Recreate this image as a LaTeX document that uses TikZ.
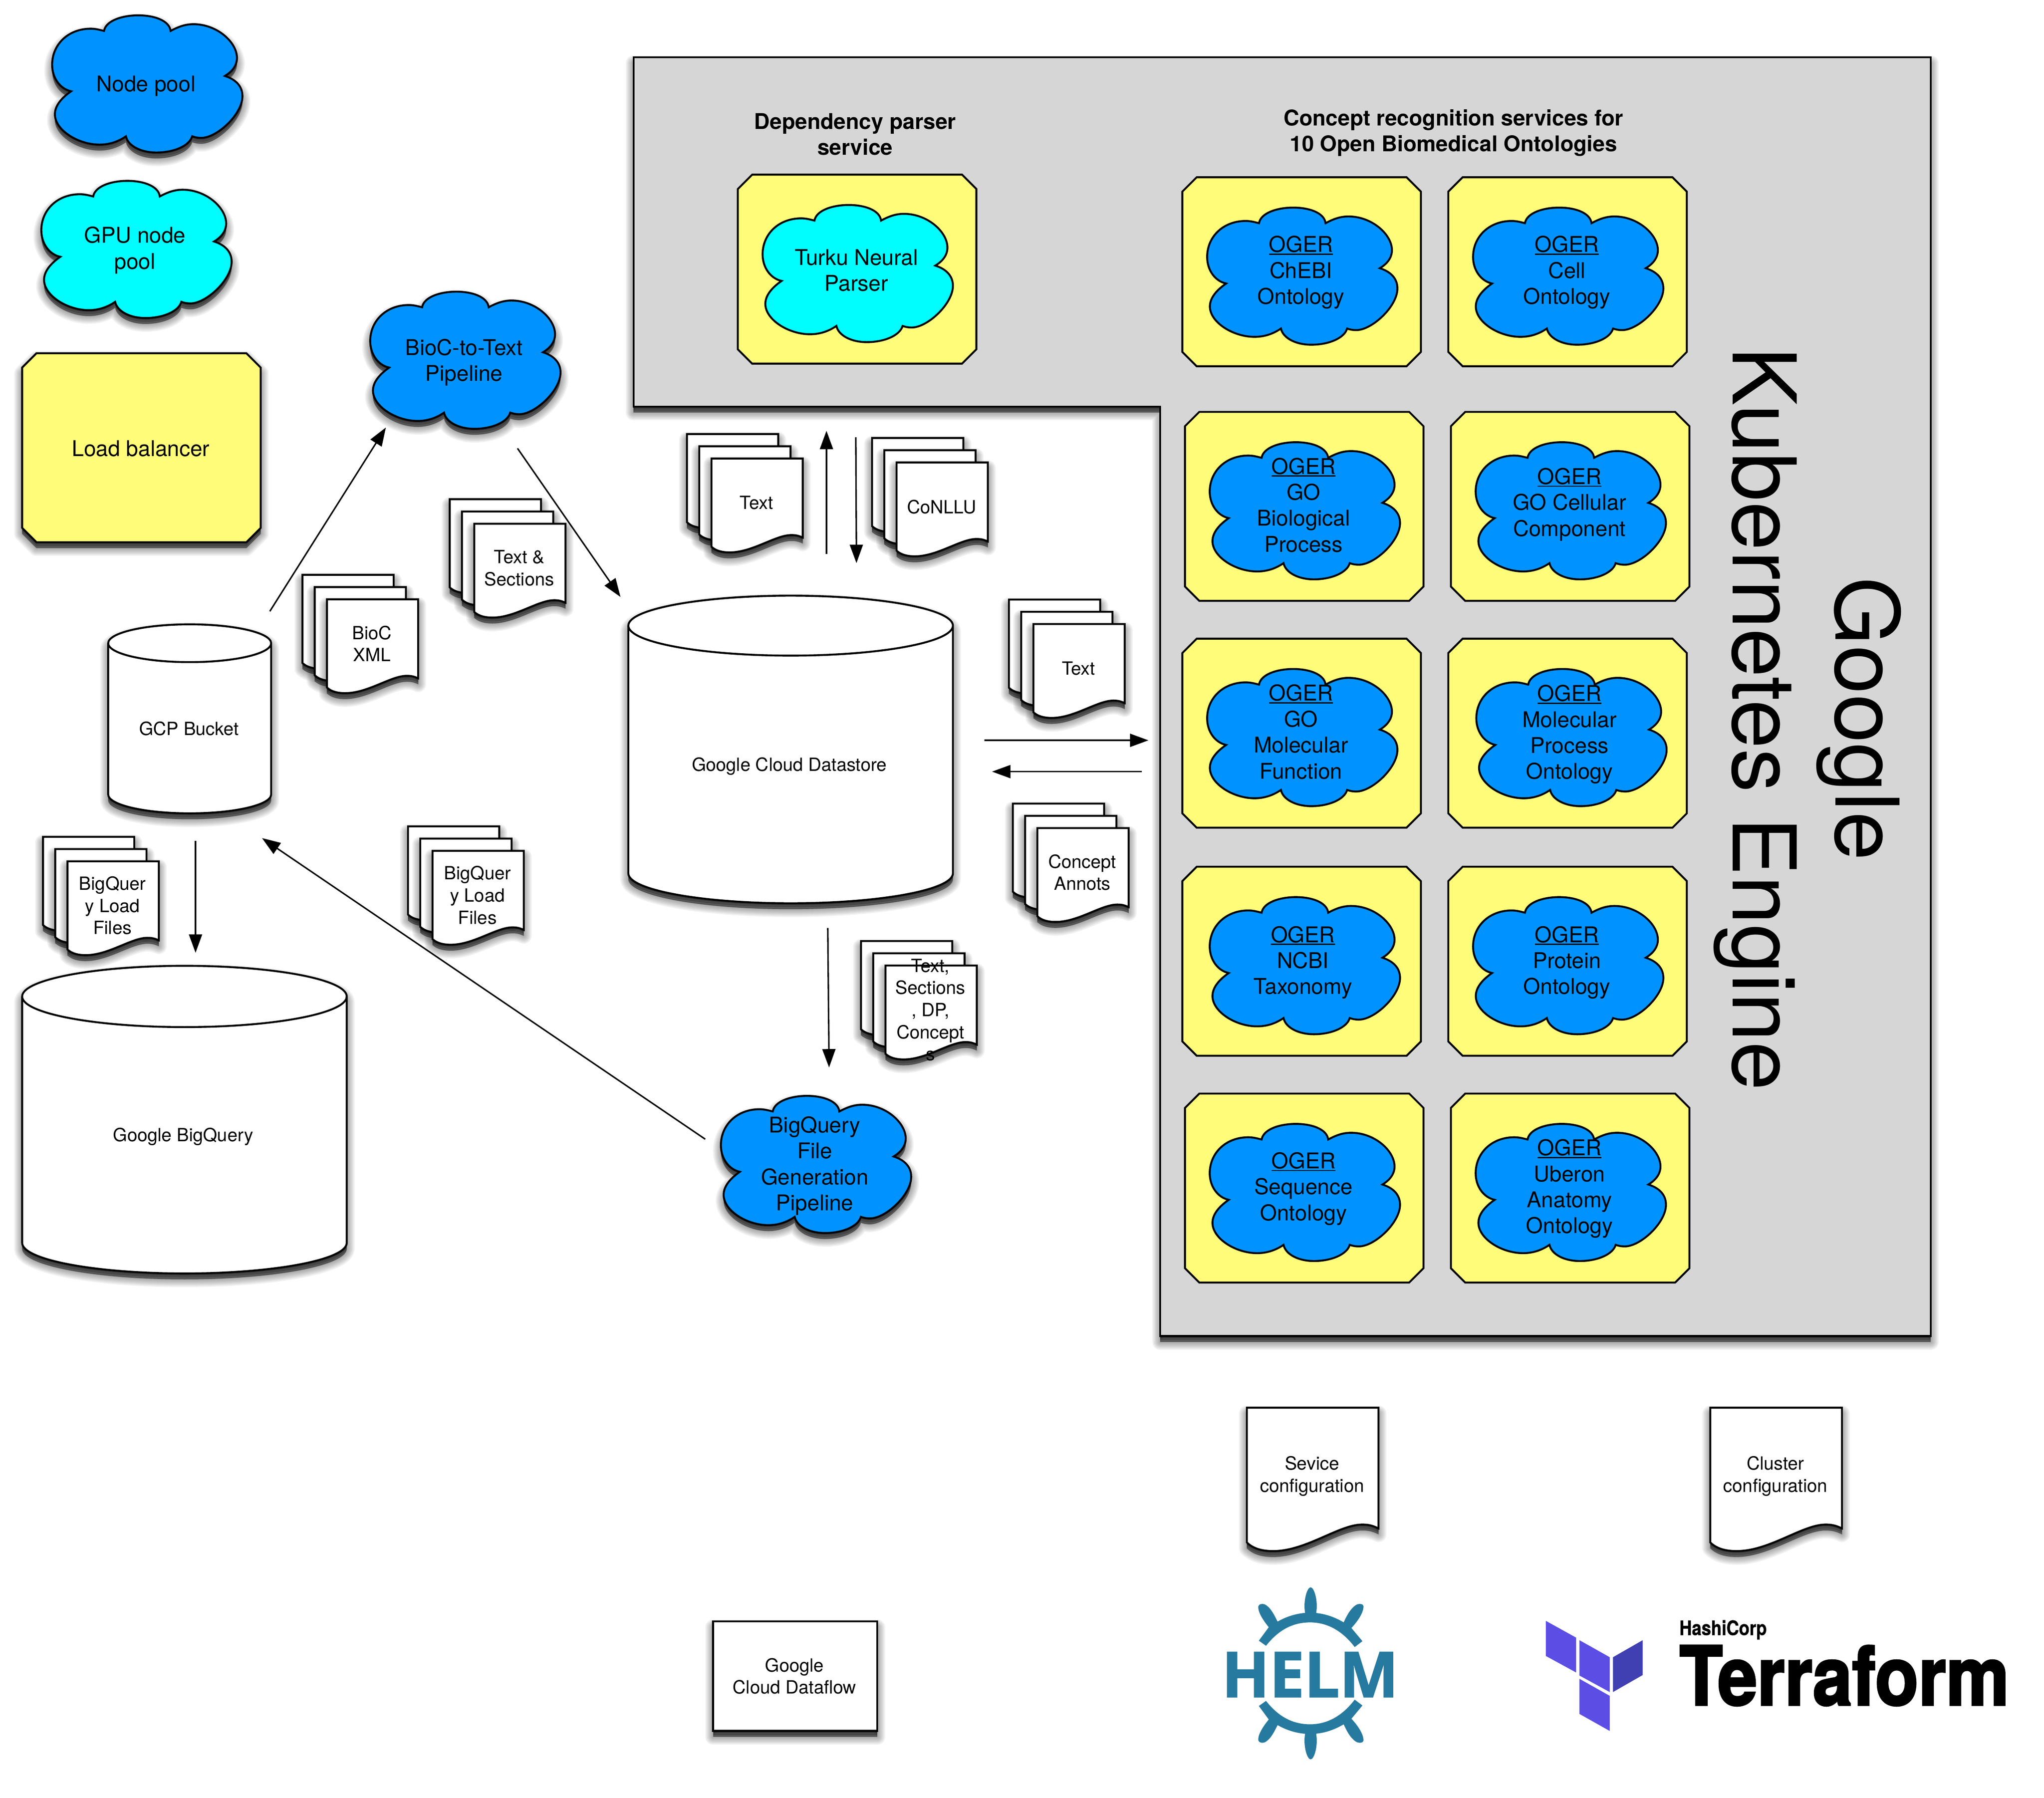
\documentclass[tikz,border=0pt]{standalone}
\usepackage{fontspec}
\usepackage{graphicx}
\setmainfont{TeX Gyre Heros}
\newfontfamily\helmfont[FakeBold=1.6]{Open Sans Bold}
\newfontfamily\tffont[FakeBold=2.5]{TeX Gyre Heros Bold}
\newfontfamily\hashifont[FakeBold=1]{TeX Gyre Heros Bold}
\usetikzlibrary{arrows.meta}
\definecolor{gkegray}{HTML}{D6D6D6}
\definecolor{banana}{HTML}{FFFC79}
\definecolor{aqua}{HTML}{0093FF}
\definecolor{cyanish}{HTML}{00FDFF}
\definecolor{helmblue}{HTML}{277A9F}
\definecolor{tfviolet}{HTML}{5C4EE5}
\definecolor{tfdark}{HTML}{4040B2}
\tikzset{
  outline/.style={draw=black,line width=1.25pt,line join=miter},
  midtext/.style={font=\fontsize{14.15}{16.9}\selectfont,align=center,inner sep=0pt},
  smalltext/.style={font=\fontsize{11.85}{14.4}\selectfont,align=center,inner sep=0pt},
  boldtext/.style={font=\fontsize{14.15}{16.9}\selectfont\bfseries,align=center,inner sep=0pt},
  hugetext/.style={font=\fontsize{57.2}{67}\selectfont,align=center,inner sep=0pt,rotate=-90},
  conn/.style={draw=black,line width=0.95pt,-{Triangle[length=12pt,width=8.5pt]}},
}
\newcommand{\ogerul}{\leavevmode\setbox0\hbox{OGER}\rlap{\rule[-1.7pt]{\wd0}{.8pt}}\box0}
\def\cloudpath{(533,140) .. controls (550,50) and (860,45) .. (873,140)
  .. controls (915,120) and (950,110) .. (990,110)
  .. controls (1110,110) and (1212,190) .. (1212,260)
  .. controls (1212,295) and (1185,322) .. (1150,340)
  .. controls (1205,355) and (1240,385) .. (1240,430)
  .. controls (1240,510) and (1110,615) .. (1030,615)
  .. controls (1010,615) and (995,612) .. (983,608)
  .. controls (970,650) and (890,680) .. (800,680)
  .. controls (720,680) and (655,650) .. (645,608)
  .. controls (605,632) and (560,645) .. (510,645)
  .. controls (400,645) and (282,580) .. (282,510)
  .. controls (282,470) and (320,435) .. (365,408)
  .. controls (310,398) and (268,350) .. (268,290)
  .. controls (268,200) and (350,130) .. (465,130)
  .. controls (490,130) and (510,135) .. (533,140) -- cycle}
\def\docpath{(0,0) -- (1,0) -- (1,.842) .. controls (.95,.82) and (.92,.815) .. (.875,.815)
  .. controls (.7,.815) and (.45,1) .. (.2,1) .. controls (.12,1) and (.05,.985) .. (0,.94) -- cycle}
% soft shadow: x y transform path
\newcommand{\softlayers}[4]{%
  \begin{scope}[shift={(#1,#2+4.5)},#3]
    \foreach \w in {.36,.30,.24,.18,.12,.06,.02}{%
      \path[fill=black,draw=black,opacity=.06,line width=\w cm,line join=round] #4;}
  \end{scope}
  \foreach \s in {1.5,3,4.5}{%
    \begin{scope}[shift={(#1,#2+\s)},#3]\fill[black,opacity=.24] #4;\end{scope}}}
% cloud: x,y,fill,shadow(1/0)
\newcommand{\cloudshape}[4]{%
  \ifnum#4=1\softlayers{#1}{#2}{xscale=146/972,yscale=105/608,shift={(-268,-72)}}{\cloudpath}\fi
  \begin{scope}[shift={(#1,#2)},xscale=146/972,yscale=105/608,shift={(-268,-72)}]
    \path[outline,fill=#3] \cloudpath;
  \end{scope}}
\newcommand{\sheet}[4]{%x y w h
  \softlayers{#1}{#2}{xscale=#3,yscale=#4}{\docpath}
  \begin{scope}[shift={(#1,#2)},xscale=#3,yscale=#4]\path[outline,fill=white] \docpath;\end{scope}}
\newcommand{\docstack}[4]{%name x y text
  \sheet{#2}{#3}{70}{72}
  \sheet{#2+9.4}{#3+9.4}{70}{72}
  \sheet{#2+18.8}{#3+18.8}{70}{72}
  \node[smalltext] (#1) at (#2+18.8+34.5,#3+18.8+34) {#4};}
\newcommand{\octpath}[4]{(#1+11,#2) -- (#3-11,#2) -- (#3,#2+11) -- (#3,#4-11) -- (#3-11,#4) -- (#1+11,#4) -- (#1,#4-11) -- (#1,#2+11) -- cycle}
% service tile: [fill] name x y cloud-dx text-dx text-dy text
\newcommand{\service}[8][aqua]{%
  \path[outline,fill=banana] \octpath{#3}{#4}{#3+183}{#4+145};
  \cloudshape{#3+19+#5}{#4+23.5}{#1}{0}
  \node[midtext] (#2) at (#3+91+#6,#4+71.5+#7) {#8};}
\newcommand{\cylinder}[8]{%name x0 x1 top bottom ry textx texty + text
  \pgfmathsetmacro\cx{(#2+#3)/2}\pgfmathsetmacro\rx{(#3-#2)/2}
  \pgfmathsetmacro\cy{#4+#6}\pgfmathsetmacro\by{#5-#6}
  \pgfmathsetmacro\kx{.5523*\rx}\pgfmathsetmacro\ky{.5523*#6}
  \def\cylpath{(#2,\cy) -- (#2,\by) .. controls (#2,\by+\ky) and (\cx-\kx,#5) .. (\cx,#5)
     .. controls (\cx+\kx,#5) and (#3,\by+\ky) .. (#3,\by) -- (#3,\cy)
     .. controls (#3,\cy-\ky) and (\cx+\kx,#4) .. (\cx,#4) .. controls (\cx-\kx,#4) and (#2,\cy-\ky) .. (#2,\cy) -- cycle}
  \softlayers{0}{0}{}{\cylpath}
  \path[outline,fill=white] \cylpath;
  \path[outline] (#2,\cy) .. controls (#2,\cy+\ky) and (\cx-\kx,\cy+#6) .. (\cx,\cy+#6)
     .. controls (\cx+\kx,\cy+#6) and (#3,\cy+\ky) .. (#3,\cy);
  \node[smalltext] (#1) at (#7,#8) {\cyltext};}
\begin{document}
\begin{tikzpicture}[x=0.02981cm,y=-0.02981cm]
\useasboundingbox (0,0) rectangle (1568,1379.4);
\fill[white] (0,0) rectangle (1568,1379.4);
% ---------- GKE region
\def\gkepath{(486,44) -- (1481,44) -- (1481,1025) -- (890,1025) -- (890,312) -- (486,312) -- cycle}
\softlayers{0}{0}{}{\gkepath}
\path[outline,fill=gkegray] \gkepath;
\node[hugetext] (gke) at (1386.5,551.5) {Google\\Kubernetes Engine};
\node[boldtext] (deptitle) at (656,103) {Dependency parser\\service};
\node[boldtext] (concepttitle) at (1115,102) {Concept recognition services for\\10 Open Biomedical Ontologies};
\service[cyanish]{turku}{566}{134}{0}{0}{2}{Turku Neural\\Parser}
\service{chebi}{907}{136}{0}{0}{1.5}{\ogerul\\ChEBI\\Ontology}
\service{cell}{1111}{136}{0}{0}{1.5}{\ogerul\\Cell\\Ontology}
\service{gobp}{909}{316}{0}{0}{0}{\ogerul\\GO\\Biological\\Process}
\service{gocc}{1113}{316}{0}{0}{-0.5}{\ogerul\\GO Cellular\\Component}
\service{gomf}{907}{490}{0}{0}{0}{\ogerul\\GO\\Molecular\\Function}
\service{mop}{1111}{490}{2.5}{2}{2}{\ogerul\\Molecular\\Process\\Ontology}
\service{ncbi}{907}{665}{2}{1.5}{2}{\ogerul\\NCBI\\Taxonomy}
\service{pro}{1111}{665}{0}{0}{2}{\ogerul\\Protein\\Ontology}
\service{so}{909}{839}{0}{0}{1.5}{\ogerul\\Sequence\\Ontology}
\service{uberon}{1113}{839}{0}{0}{1.5}{\ogerul\\Uberon\\Anatomy\\Ontology}
% ---------- legend
\cloudshape{40}{12}{aqua}{1}
\node[midtext] (nodepool) at (112,66) {Node pool};
\cloudshape{31.7}{139}{cyanish}{1}
\node[midtext] (gpupool) at (103.5,192) {GPU node\\pool};
\softlayers{0}{0}{}{\octpath{17}{271}{200}{416}}
\path[outline,fill=banana] \octpath{17}{271}{200}{416};
\node[midtext] (lb) at (108,344) {Load balancer};
% ---------- pipelines
\cloudshape{284}{224}{aqua}{1}
\node[midtext] (bioc) at (356,278) {BioC-to-Text\\Pipeline};
\cloudshape{553}{841}{aqua}{1}
\node[midtext] (bqpipe) at (625,894.5) {BigQuery\\File\\Generation\\Pipeline};
% ---------- stores
\def\cyltext{GCP Bucket}
\cylinder{bucket}{83}{208}{479}{624}{14.5}{145}{559}
\def\cyltext{Google Cloud Datastore}
\cylinder{datastore}{482}{731}{457}{693}{23}{605.5}{588}
\def\cyltext{Google BigQuery}
\cylinder{bigquery}{17}{266}{741}{977}{23.5}{140.5}{872}
% ---------- document stacks
\docstack{textdp}{527}{333}{Text}
\docstack{conllu}{669}{336}{CoNLLU}
\docstack{textsec}{345}{383}{Text \&\\Sections}
\docstack{biocxml}{232}{441}{BioC\\XML}
\docstack{textcr}{774}{460}{Text}
\docstack{annots}{777}{616.5}{Concept\\Annots}
\docstack{bqloadA}{33}{642}{BigQuer\\y Load\\Files}
\docstack{bqloadB}{313}{634}{BigQuer\\y Load\\Files}
\docstack{allout}{660.5}{722}{Text,\\Sections\\, DP,\\Concept\\s}
% ---------- connectors
\draw[conn] ([shift={(62,-90)}]bucket.center) -- ([shift={(-60,50)}]bioc.center);
\draw[conn] ([shift={(41,66)}]bioc.center) -- ([shift={(-129.5,-130)}]datastore.center);
\draw[conn] ([shift={(28.5,-163)}]datastore.center) -- ([shift={(-23,123)}]turku.center);
\draw[conn] ([shift={(-0.5,128)}]turku.center) -- ([shift={(51.5,-156)}]datastore.center);
\draw[conn] ([shift={(149.5,-20)}]datastore.center) -- ([shift={(-505.5,16.5)}]gke.center);
\draw[conn] ([shift={(-510.5,40.5)}]gke.center) -- ([shift={(155.5,4)}]datastore.center);
\draw[conn] ([shift={(29.5,124)}]datastore.center) -- ([shift={(11,-75.5)}]bqpipe.center);
\draw[conn] ([shift={(-84,-20.5)}]bqpipe.center) -- ([shift={(56,84)}]bucket.center);
\draw[conn] ([shift={(5,86)}]bucket.center) -- ([shift={(9.5,-141)}]bigquery.center);
% ---------- bottom row
\def\dfpath{(547,1244) rectangle (673,1328)}
\softlayers{0}{0}{}{\dfpath}
\path[outline,fill=white] \dfpath;
\node[smalltext] (dataflow) at (609.5,1286) {Google\\Cloud Dataflow};
\sheet{956.5}{1080}{101}{110}
\node[smalltext] (svc) at (1006.5,1132.5) {Sevice\\configuration};
\sheet{1312}{1080}{101}{110}
\node[smalltext] (cluster) at (1362,1132.5) {Cluster\\configuration};
% ---------- logos (zoom coordinates)
\begin{scope}[shift={(905.7,1073.5)},xscale=.4225,yscale=.195]
  \def\helmhalf{%
    \fill[helmblue] (142,950) -- (160,897) .. controls (148,865) and (140,835) .. (141,815) .. controls (142,805) and (150,802) .. (155,810) .. controls (165,825) and (170,850) .. (176,875) .. controls (192,855) and (212,840) .. (235,840) .. controls (258,840) and (278,855) .. (296,878) .. controls (302,850) and (308,825) .. (318,810) .. controls (324,802) and (332,805) .. (332,815) .. controls (332,835) and (325,865) .. (310,900) -- (330,952) -- (316,975) .. controls (295,915) and (268,878) .. (235,878) .. controls (200,878) and (175,915) .. (155,970) -- cycle;
    \fill[helmblue] (226,842) .. controls (222,790) and (230,740) .. (236,740) .. controls (242,740) and (250,790) .. (246,842) -- cycle;}
  \helmhalf
  \begin{scope}[shift={(0,2157)},yscale=-1]\helmhalf\end{scope}
  \node[anchor=base,inner sep=0pt,text=helmblue,font=\fontsize{41}{41}\selectfont\helmfont] (helm) at (235,1172) {\scalebox{.989}[1]{HELM}};
  \fill[tfviolet] (663,872) -- (718,938) -- (718,1075) -- (663,1010) -- cycle;
  \fill[tfviolet] (724,948) -- (779,1015) -- (779,1152) -- (724,1087) -- cycle;
  \fill[tfdark] (785,1015) -- (839,948) -- (839,1085) -- (785,1152) -- cycle;
  \fill[tfviolet] (724,1100) -- (779,1167) -- (779,1305) -- (724,1238) -- cycle;
  \node[anchor=base west,inner sep=0pt,font=\fontsize{53}{53}\selectfont\tffont] (terraform) at (905,1203) {\scalebox{.871}[1]{Terraform}};
  \node[anchor=base west,inner sep=0pt,font=\fontsize{13}{13}\selectfont\hashifont] (hashicorp) at (905,928) {\scalebox{.865}[1]{HashiCorp}};
\end{scope}
\end{tikzpicture}
\end{document}
